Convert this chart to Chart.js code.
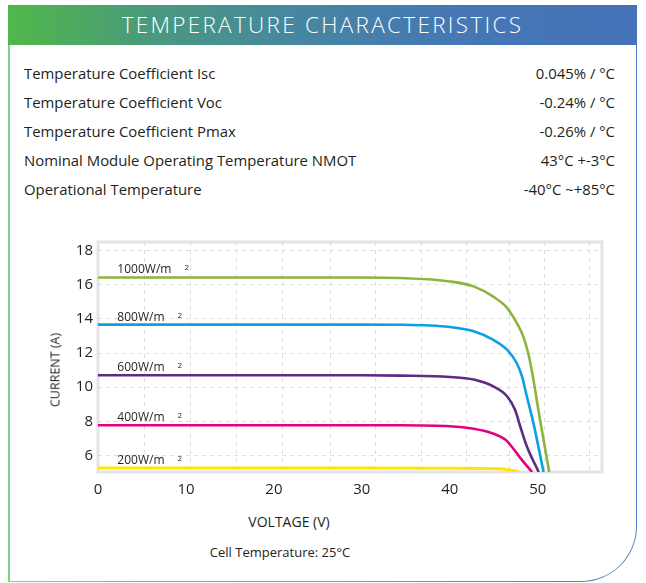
<!DOCTYPE html>
<html>
<head>
<meta charset="utf-8">
<script src="https://cdn.jsdelivr.net/npm/chart.js@4"></script>
<style>
  html, body { margin: 0; padding: 0; background: #fff; }
  body { width: 646px; height: 583px; position: relative; overflow: hidden; font-family: "Open Sans", sans-serif; color: #231f20; }
  .card-outer { position: absolute; left: 8px; top: 5px; width: 629px; height: 577px;
    background: linear-gradient(90deg, #7fd07f 0%, #6aa9a8 50%, #4c7cc0 100%);
    border-bottom-right-radius: 56px; }
  .card-inner { position: absolute; left: 1.5px; top: 0; right: 1.5px; bottom: 1.5px; background: #fff;
    border-bottom-right-radius: 54.5px; }
  .header { position: absolute; left: 8px; top: 5px; width: 629px; height: 40px;
    background: linear-gradient(90deg, #50b848 0%, #4a9a7c 22%, #4787a0 45%, #4578b4 70%, #4472b8 100%);
    color: #fff; font-size: 22.5px; font-weight: 300; letter-spacing: 2.3px; text-align: center; line-height: 39px; }
  .rows { position: absolute; left: 24px; top: 58.5px; width: 591px; font-size: 14.9px; }
  .row { display: flex; justify-content: space-between; height: 29px; line-height: 29px; }
  .chart-box { position: absolute; left: 40px; top: 232px; width: 580px; height: 270px; }
  .ytitle { position: absolute; left: 55px; top: 370px; transform: translate(-50%, -50%) rotate(-90deg);
    font-size: 12.5px; white-space: nowrap; }
  .xtitle { position: absolute; left: 289px; top: 521px; transform: translate(-50%, -50%); font-size: 14px; white-space: nowrap; }
  .caption { position: absolute; left: 280px; top: 552px; transform: translate(-50%, -50%); font-size: 13px; white-space: nowrap; }
</style>
</head>
<body>
<div class="card-outer"><div class="card-inner"></div></div>
<div class="header">TEMPERATURE CHARACTERISTICS</div>
<div class="rows" id="rows"></div>
<div class="chart-box"><canvas id="ivChart"></canvas></div>
<div class="ytitle">CURRENT (A)</div>
<div class="xtitle">VOLTAGE (V)</div>
<div class="caption">Cell Temperature: 25°C</div>

<script>
// Spec table
const specNames = [
  'Temperature Coefficient Isc',
  'Temperature Coefficient Voc',
  'Temperature Coefficient Pmax',
  'Nominal Module Operating Temperature NMOT',
  'Operational Temperature'
];
const specValues = ['0.045% / °C', '-0.24% / °C', '-0.26% / °C', '43°C +-3°C', '-40°C ~+85°C'];

// Axis ticks
const xTicks = [0, 10, 20, 30, 40, 50];
const yTicks = [6, 8, 10, 12, 14, 16, 18];
const gridVolts = [5.3, 10.5, 15.8, 21, 26.4, 31.5, 36.8, 41.9, 46.8, 50.8, 55.9];

// I-V curves (voltage V, current A)
const irradiance = ['1000W/m', '800W/m', '600W/m', '400W/m', '200W/m'];
const colors = ['#8db43e', '#0aa0e2', '#5e2b82', '#e4007f', '#ffe500'];

const v1000 = [0, 10, 20, 30, 34.3, 40, 42.7, 44.9, 46.5, 47.6, 48.35, 48.9, 49.3, 50.25, 51.3];
const i1000 = [16.43, 16.43, 16.43, 16.43, 16.4, 16.2, 15.91, 15.32, 14.65, 13.77, 12.98, 12.01, 11.03, 8.11, 5.03];

const v800 = [0, 10, 20, 30, 34.3, 40, 42.7, 44.9, 46.5, 47.6, 48.2, 48.75, 49.5, 50.65];
const i800 = [13.67, 13.67, 13.67, 13.67, 13.66, 13.53, 13.28, 12.79, 12.2, 11.42, 10.64, 9.47, 7.91, 5.03];

const v600 = [0, 10, 20, 30, 34.3, 40, 42.7, 44.9, 46.5, 47.4, 48, 48.75, 50.1];
const i600 = [10.7, 10.7, 10.7, 10.7, 10.68, 10.6, 10.45, 10.06, 9.47, 8.69, 7.71, 6.54, 5.03];

const v400 = [0, 10, 20, 30, 34.3, 40, 42.7, 44.9, 46.3, 47, 48, 49.35];
const i400 = [7.77, 7.77, 7.77, 7.77, 7.77, 7.71, 7.56, 7.29, 6.93, 6.54, 5.86, 5.03];

const v200 = [0, 10, 20, 30, 40, 45.7, 47, 47.9];
const i200 = [5.26, 5.26, 5.26, 5.26, 5.25, 5.22, 5.14, 5.03];

const curves = [[v1000, i1000], [v800, i800], [v600, i600], [v400, i400], [v200, i200]];

// fill spec rows
document.getElementById('rows').innerHTML = specNames.map((n, k) =>
  `<div class="row"><span>${n}</span><span>${specValues[k]}</span></div>`).join('');

// labels "1000W/m ²" above each curve, plus the plot frame
const curveLabels = {
  id: 'curveLabels',
  beforeDatasetsDraw(chart) {
    const { ctx, chartArea: a } = chart;
    ctx.save();
    ctx.strokeStyle = '#e3e3e8';
    ctx.lineWidth = 3;
    ctx.strokeRect(a.left, a.top, a.right - a.left, a.bottom - a.top);
    ctx.restore();
  },
  afterDatasetsDraw(chart) {
    const { ctx, scales } = chart;
    ctx.save();
    ctx.fillStyle = '#231f20';
    ctx.textBaseline = 'alphabetic';
    curves.forEach(([v, i], k) => {
      const x = scales.x.getPixelForValue(2.2);
      const y = scales.y.getPixelForValue(i[0]) - 4;
      ctx.font = '12px "Open Sans"';
      ctx.fillText(irradiance[k], x, y);
      const w = ctx.measureText(irradiance[k]).width;
      ctx.font = '8px "Open Sans"';
      ctx.fillText('2', x + w + 13, y - 3);
    });
    ctx.restore();
  }
};

const dashedGrid = { color: '#dedede', lineWidth: 1, drawTicks: false };

new Chart(document.getElementById('ivChart'), {
  type: 'line',
  data: {
    datasets: curves.map(([v, i], k) => ({
      label: irradiance[k],
      data: v.map((x, j) => ({ x, y: i[j] })),
      borderColor: colors[k],
      borderWidth: k === 4 ? 3 : 2.6,
      pointRadius: 0,
      cubicInterpolationMode: 'monotone',
      fill: false
    }))
  },
  options: {
    responsive: true,
    maintainAspectRatio: false,
    animation: false,
    layout: { padding: { left: 0, top: 10, right: 18, bottom: 0 } },
    plugins: { legend: { display: false }, tooltip: { enabled: false } },
    scales: {
      x: {
        type: 'linear', min: 0, max: 57.3,
        afterBuildTicks: s => { s.ticks = xTicks.map(value => ({ value })); },
        afterFit: s => { s.height = 30; s.paddingLeft = 0; s.paddingRight = 0; },
        grid: { display: false },
        border: { display: false },
        ticks: { color: '#231f20', font: { family: 'Open Sans', size: 15 }, padding: 1 }
      },
      xg: {
        type: 'linear', position: 'top', min: 0, max: 57.3,
        afterBuildTicks: s => { s.ticks = gridVolts.map(value => ({ value })); },
        afterFit: s => { s.height = 0; s.paddingLeft = 0; s.paddingRight = 0; },
        grid: { ...dashedGrid },
        border: { display: false, dash: [4, 4] },
        ticks: { display: false }
      },
      y: {
        type: 'linear', min: 5.03, max: 18.51,
        afterBuildTicks: s => { s.ticks = yTicks.map(value => ({ value })); },
        afterFit: s => { s.width = 58; s.paddingTop = 0; s.paddingBottom = 0; },
        grid: { ...dashedGrid },
        border: { display: false, dash: [4, 4] },
        ticks: { color: '#231f20', font: { family: 'Open Sans', size: 15 }, padding: 5 }
      }
    }
  },
  plugins: [curveLabels]
});
</script>
</body>
</html>
